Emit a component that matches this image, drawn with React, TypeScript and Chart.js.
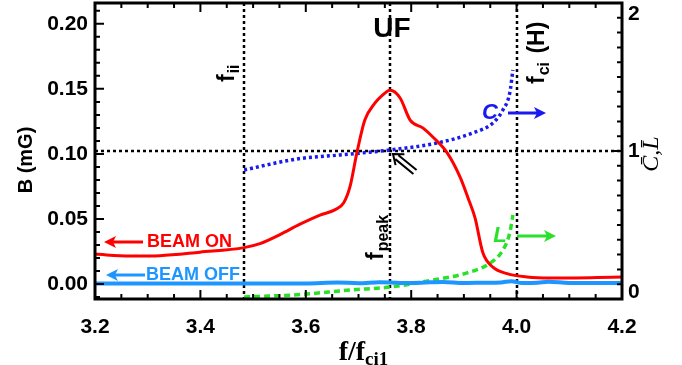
import React, { useEffect, useRef } from "react";
import { Chart, registerables } from "chart.js";
Chart.register(...registerables);

// ---- data ----
const xTicks = [3.2, 3.4, 3.6, 3.8, 4.0, 4.2];
const bTicks = [0, 0.05, 0.1, 0.15, 0.2];
const clTicks = [0, 1, 2];

const beamOnF = [3.2, 3.266, 3.323, 3.399, 3.483, 3.513, 3.551, 3.589, 3.627, 3.655, 3.672, 3.684, 3.697, 3.712, 3.731, 3.745, 3.76, 3.779, 3.798, 3.822, 3.841, 3.868, 3.893, 3.908, 3.921, 3.936, 3.955, 3.982, 4.02, 4.063, 4.2];
const beamOnB = [0.023, 0.0215, 0.0218, 0.0245, 0.028, 0.031, 0.038, 0.046, 0.053, 0.057, 0.0625, 0.075, 0.101, 0.126, 0.139, 0.145, 0.149, 0.143, 0.126, 0.12, 0.113, 0.101, 0.082, 0.066, 0.051, 0.024, 0.013, 0.008, 0.0054, 0.0046, 0.0054];

const beamOffF = [3.2, 3.4, 3.6, 3.66, 3.7, 3.74, 3.78, 3.82, 3.86, 3.9, 3.94, 3.97, 3.99, 4.01, 4.04, 4.06, 4.1, 4.2];
const beamOffB = [0.0005, 0.0005, 0.0005, 0.0012, 0.0006, 0.0014, 0.0008, 0.001, 0.0016, 0.0008, 0.001, 0.0012, 0.0022, 0.0008, 0.001, 0.0018, 0.0008, 0.0008];

const cF = [3.483, 3.583, 3.665, 3.76, 3.849, 3.917, 3.955, 3.974, 3.987, 3.993];
const cVal = [0.872, 0.946, 0.973, 1.007, 1.054, 1.122, 1.189, 1.277, 1.392, 1.547];

const lF = [3.483, 3.589, 3.684, 3.76, 3.841, 3.906, 3.95, 3.974, 3.987, 3.993];
const lVal = [0.0135, 0.03, 0.061, 0.081, 0.128, 0.176, 0.243, 0.331, 0.446, 0.568];

const refF = [3.483, 3.76, 4.0]; // f_ii, f_peak, f_ci(H)
const refCL = 1;

const SANS = "'Liberation Sans', Arial, Helvetica, sans-serif";
const SERIF = "'Liberation Serif', 'Times New Roman', serif";
const RED = "rgb(255,0,0)";
const LBLUE = "rgb(30,150,255)";
const BLUE = "rgb(25,25,240)";
const GREEN = "rgb(40,225,40)";

type Part = { t: string; font: string; dy?: number; gap?: number };

function drawParts(ctx: CanvasRenderingContext2D, x: number, y: number, rot: number, parts: Part[], color: string) {
  ctx.save();
  ctx.translate(x, y);
  ctx.rotate(rot);
  ctx.fillStyle = color;
  ctx.textAlign = "left";
  ctx.textBaseline = "alphabetic";
  let cx = 0;
  for (const p of parts) {
    cx += p.gap || 0;
    ctx.font = p.font;
    ctx.fillText(p.t, cx, p.dy || 0);
    cx += ctx.measureText(p.t).width;
  }
  ctx.restore();
}

function arrow(ctx: CanvasRenderingContext2D, x1: number, y: number, x2: number, color: string) {
  const dir = x2 > x1 ? 1 : -1;
  ctx.save();
  ctx.strokeStyle = color;
  ctx.fillStyle = color;
  ctx.lineWidth = 3;
  ctx.beginPath();
  ctx.moveTo(x1, y);
  ctx.lineTo(x2 - dir * 8, y);
  ctx.stroke();
  ctx.beginPath();
  ctx.moveTo(x2, y);
  ctx.lineTo(x2 - dir * 12, y - 6);
  ctx.lineTo(x2 - dir * 9, y);
  ctx.lineTo(x2 - dir * 12, y + 6);
  ctx.closePath();
  ctx.fill();
  ctx.restore();
}

const decor = {
  id: "decor",
  beforeDatasetsDraw(chart: any) {
    const ctx = chart.ctx as CanvasRenderingContext2D;
    const a = chart.chartArea;
    const xs = chart.scales.x;
    const y2 = chart.scales.y2;
    ctx.save();
    ctx.strokeStyle = "#000";
    ctx.lineWidth = 2.5;
    ctx.setLineDash([3, 3]);
    for (const f of refF) {
      const px = Math.round(xs.getPixelForValue(f));
      ctx.beginPath();
      ctx.moveTo(px, a.top);
      ctx.lineTo(px, a.bottom);
      ctx.stroke();
    }
    const py = Math.round(y2.getPixelForValue(refCL));
    ctx.beginPath();
    ctx.moveTo(a.left, py);
    ctx.lineTo(a.right, py);
    ctx.stroke();
    ctx.restore();
  },
  afterDraw(chart: any) {
    const ctx = chart.ctx as CanvasRenderingContext2D;
    const a = chart.chartArea;
    const xs = chart.scales.x;
    const ys = chart.scales.y;
    const y2 = chart.scales.y2;
    ctx.save();
    ctx.strokeStyle = "#000";
    ctx.lineWidth = 2;
    ctx.setLineDash([]);
    ctx.beginPath();
    for (let i = 0; i <= 20; i++) {
      const px = xs.getPixelForValue(3.2 + i * 0.05);
      const len = i % 4 === 0 ? 9 : 5;
      ctx.moveTo(px, a.bottom);
      ctx.lineTo(px, a.bottom - len);
      ctx.moveTo(px, a.top);
      ctx.lineTo(px, a.top + len);
    }
    for (let i = -1; i <= 21; i++) {
      const py = ys.getPixelForValue(i / 100);
      if (py < a.top || py > a.bottom) continue;
      const len = i % 5 === 0 ? 9 : 5;
      ctx.moveTo(a.left, py);
      ctx.lineTo(a.left + len, py);
    }
    for (let i = 0; i <= 20; i++) {
      const py = y2.getPixelForValue(i / 10);
      const len = i % 10 === 0 ? 9 : 5;
      ctx.moveTo(a.right, py);
      ctx.lineTo(a.right - len, py);
    }
    ctx.stroke();
    ctx.lineWidth = 3;
    ctx.strokeRect(a.left, a.top, a.right - a.left, a.bottom - a.top);

    // right tick labels (clamped inside the axis span)
    ctx.fillStyle = "#000";
    ctx.font = `bold 21px ${SANS}`;
    ctx.textAlign = "left";
    ctx.textBaseline = "middle";
    for (const v of clTicks) {
      let py = y2.getPixelForValue(v);
      py = Math.max(a.top + 11, Math.min(a.bottom - 7, py));
      ctx.fillText(String(v), a.right + 6, py);
    }

    // left title
    ctx.save();
    ctx.translate(26, 160);
    ctx.rotate(-Math.PI / 2);
    ctx.textAlign = "center";
    ctx.textBaseline = "middle";
    ctx.font = `bold 20px ${SANS}`;
    ctx.fillText("B (mG)", 0, 0);
    ctx.restore();

    // right title
    ctx.save();
    ctx.translate(652, 154);
    ctx.rotate(-Math.PI / 2);
    ctx.textAlign = "center";
    ctx.textBaseline = "middle";
    ctx.font = `italic 24px ${SERIF}`;
    ctx.fillText("C\u0304,L\u0304", 0, 0);
    ctx.restore();

    // x title
    const tb = `bold 28px ${SERIF}`;
    const ts = `bold 19px ${SERIF}`;
    ctx.font = tb;
    const w1 = ctx.measureText("f/f").width;
    ctx.font = ts;
    const w2 = ctx.measureText("ci1").width;
    drawParts(ctx, (a.left + a.right) / 2 + 5 - (w1 + w2) / 2, 360, 0, [
      { t: "f/f", font: tb },
      { t: "ci1", font: ts, dy: 5 },
    ], "#000");

    // UF
    ctx.fillStyle = "#000";
    ctx.font = `bold 28px ${SANS}`;
    ctx.textAlign = "center";
    ctx.textBaseline = "middle";
    ctx.fillText("UF", 392, 29);

    // vertical labels
    const vb = `bold 23px ${SANS}`;
    const vs = `bold 16px ${SANS}`;
    drawParts(ctx, xs.getPixelForValue(refF[0]) - 10, 82, -Math.PI / 2, [
      { t: "f", font: vb },
      { t: "ii", font: vs, dy: 5, gap: 1 },
    ], "#000");
    drawParts(ctx, xs.getPixelForValue(refF[1]) - 7, 260, -Math.PI / 2, [
      { t: "f", font: vb },
      { t: "peak", font: vs, dy: 5, gap: 1 },
    ], "#000");
    drawParts(ctx, xs.getPixelForValue(refF[2]) + 27, 84, -Math.PI / 2, [
      { t: "f", font: vb },
      { t: "ci", font: vs, dy: 5, gap: 1 },
      { t: " (H)", font: vb, gap: 2 },
    ], "#000");

    // C and L
    ctx.font = `italic bold 22px ${SANS}`;
    ctx.fillStyle = BLUE;
    ctx.fillText("C", 490, 113);
    arrow(ctx, 508, 113, 546, BLUE);
    ctx.fillStyle = GREEN;
    ctx.fillText("L", 500, 236);
    arrow(ctx, 517, 236, 556, GREEN);

    // beam labels
    ctx.font = `bold 18px ${SANS}`;
    ctx.textAlign = "left";
    ctx.fillStyle = RED;
    ctx.fillText("BEAM ON", 147, 242);
    arrow(ctx, 143, 242, 104, RED);
    ctx.fillStyle = LBLUE;
    ctx.fillText("BEAM OFF", 146, 275);
    arrow(ctx, 145, 275, 106, LBLUE);

    // double arrow
    const tip = { x: 393, y: 154 };
    const tail = { x: 415, y: 172 };
    const dx = tip.x - tail.x, dy = tip.y - tail.y;
    const L = Math.hypot(dx, dy);
    const ux = dx / L, uy = dy / L;
    const nx = -uy, ny = ux;
    ctx.strokeStyle = "#000";
    ctx.lineWidth = 2;
    ctx.beginPath();
    for (const s of [-2.5, 2.5]) {
      ctx.moveTo(tail.x + nx * s, tail.y + ny * s);
      ctx.lineTo(tip.x - ux * 5 + nx * s, tip.y - uy * 5 + ny * s);
    }
    ctx.moveTo(tip.x - ux * 9 + nx * 7, tip.y - uy * 9 + ny * 7);
    ctx.lineTo(tip.x, tip.y);
    ctx.lineTo(tip.x - ux * 9 - nx * 7, tip.y - uy * 9 - ny * 7);
    ctx.stroke();
    ctx.restore();
  },
};

export default function App() {
  const ref = useRef<HTMLCanvasElement>(null);
  useEffect(() => {
    if (!ref.current) return;
    const tickFont = { family: SANS, size: 21, weight: "bold" as const };
    const chart = new Chart(ref.current, {
      type: "line",
      data: {
        datasets: [
          {
            data: beamOnF.map((f, i) => ({ x: f, y: beamOnB[i] })),
            borderColor: RED,
            borderWidth: 3,
            pointRadius: 0,
            cubicInterpolationMode: "monotone",
            yAxisID: "y",
          },
          {
            data: beamOffF.map((f, i) => ({ x: f, y: beamOffB[i] })),
            borderColor: LBLUE,
            borderWidth: 4,
            pointRadius: 0,
            cubicInterpolationMode: "monotone",
            yAxisID: "y",
          },
          {
            data: cF.map((f, i) => ({ x: f, y: cVal[i] })),
            borderColor: BLUE,
            borderWidth: 3.5,
            borderDash: [3, 3],
            pointRadius: 0,
            cubicInterpolationMode: "monotone",
            yAxisID: "y2",
          },
          {
            data: lF.map((f, i) => ({ x: f, y: lVal[i] })),
            borderColor: GREEN,
            borderWidth: 3.5,
            borderDash: [6, 4],
            pointRadius: 0,
            cubicInterpolationMode: "monotone",
            yAxisID: "y2",
          },
        ],
      },
      options: {
        animation: false,
        responsive: false,
        layout: { padding: { top: 3, left: 0, right: 0, bottom: 0 } },
        plugins: { legend: { display: false }, tooltip: { enabled: false } },
        scales: {
          x: {
            type: "linear",
            min: 3.2,
            max: 4.2,
            grid: { display: false, drawTicks: false },
            border: { display: false },
            afterBuildTicks: (s: any) => {
              s.ticks = xTicks.map((v) => ({ value: v }));
            },
            afterFit: (s: any) => {
              s.height = 66;
              s.paddingLeft = 0;
              s.paddingRight = 0;
            },
            ticks: {
              padding: 16,
              color: "#000",
              font: tickFont,
              maxRotation: 0,
              autoSkip: false,
              callback: (v: any) => Number(v).toFixed(1),
            },
          },
          y: {
            type: "linear",
            position: "left",
            min: -0.0115,
            max: 0.216,
            grid: { display: false, drawTicks: false },
            border: { display: false },
            afterBuildTicks: (s: any) => {
              s.ticks = bTicks.map((v) => ({ value: v }));
            },
            afterFit: (s: any) => {
              s.width = 95;
              s.paddingTop = 0;
              s.paddingBottom = 0;
            },
            ticks: {
              padding: 7,
              color: "#000",
              font: tickFont,
              callback: (v: any) => Number(v).toFixed(2),
            },
          },
          y2: {
            type: "linear",
            position: "right",
            min: 0,
            max: 2,
            grid: { display: false, drawTicks: false },
            border: { display: false },
            ticks: { display: false },
            afterFit: (s: any) => {
              s.width = 60;
              s.paddingTop = 0;
              s.paddingBottom = 0;
            },
          },
        },
      },
      plugins: [decor],
    });
    return () => chart.destroy();
  }, []);
  return (
    <div style={{ position: "fixed", left: 0, top: 0, width: 682, height: 365, background: "#fff" }}>
      <canvas ref={ref} width={682} height={365} />
    </div>
  );
}
